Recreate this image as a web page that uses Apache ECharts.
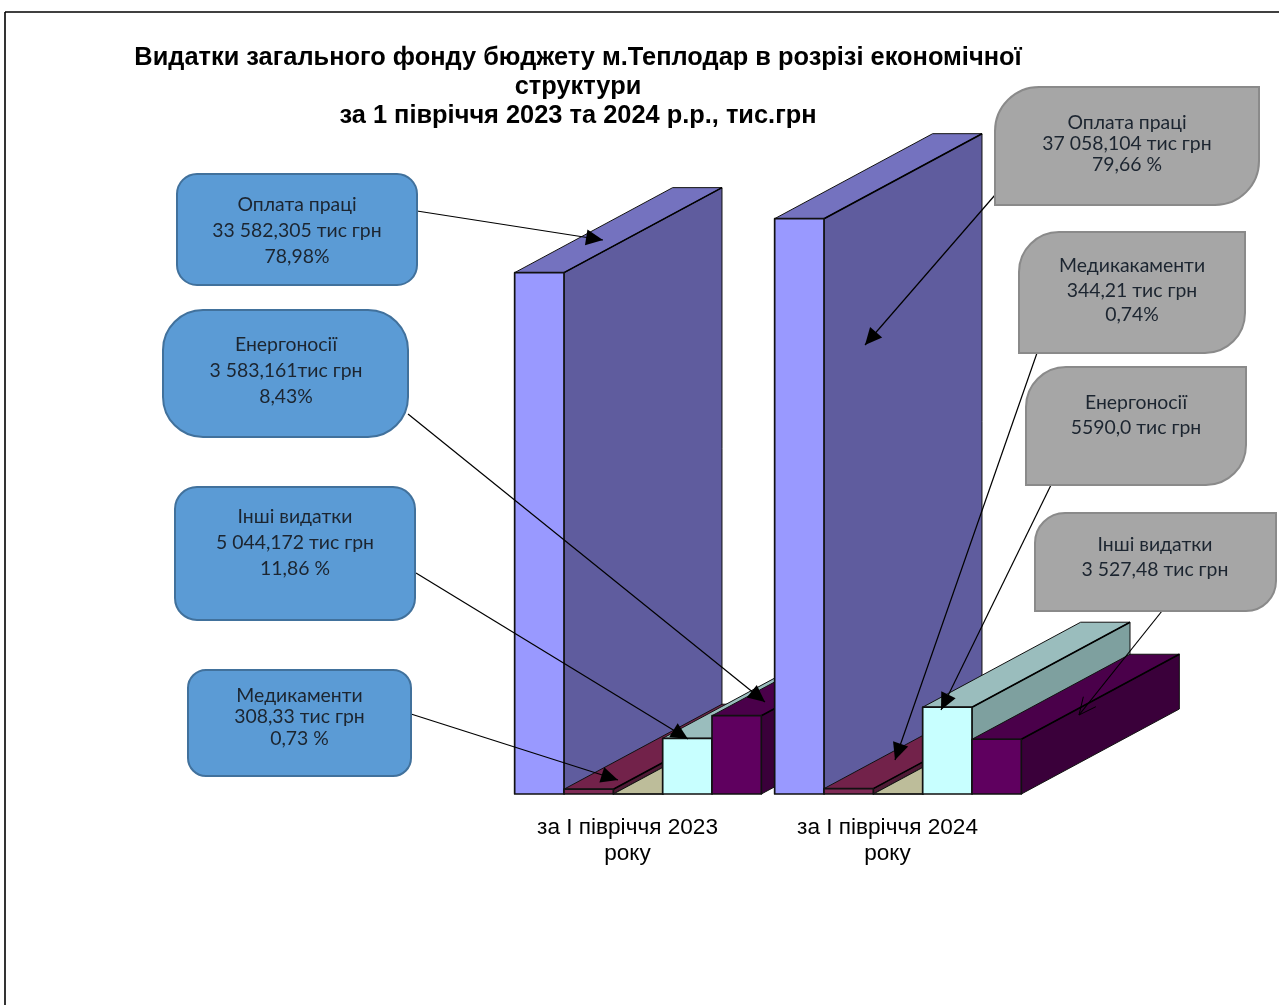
<!DOCTYPE html>
<html>
<head>
<meta charset="utf-8">
<title>Видатки загального фонду</title>
<style>
html, body { margin: 0; padding: 0; background: #fff; }
#chart { width: 1279px; height: 1005px; }
</style>
<script src="https://cdn.jsdelivr.net/npm/echarts@6/dist/echarts.min.js"></script>
</head>
<body>
<div id="chart"></div>
<script>
var titleText = 'Видатки загального фонду бюджету м.Теплодар в розрізі економічної\nструктури\nза 1 півріччя 2023 та 2024 р.р., тис.грн';
var categories = ['за І півріччя 2023\nроку', 'за І півріччя 2024\nроку'];

// тис. грн
var salary = [33582.305, 37058.104];
var medicine = [308.33, 344.21];
var emptySeries = [0, 0];
var energy = [3583.161, 5590.0];
var other = [5044.172, 3527.48];

var labelsLeft = [
	'Оплата праці\n33 582,305 тис грн\n78,98%',
	'Енергоносії\n3 583,161тис грн\n8,43%',
	'Інші видатки\n5 044,172 тис грн\n11,86 %',
	'Медикаменти\n308,33 тис грн\n0,73 %'
];
var labelsRight = [
	'Оплата праці\n37 058,104 тис грн\n79,66 %',
	'Медикакаменти\n344,21 тис грн\n0,74%',
	'Енергоносії\n5590,0 тис грн',
	'Інші видатки\n3 527,48 тис грн'
];

var depthX = 158, depthY = -85; // зсув глибини 3D
var barCount = 5;
var boxFont = 'Lato, "Noto Sans", sans-serif';

function bar3d(index, colors) {
	return function(params, api) {
		var base = api.coord([api.value(0), 0]);
		var top = api.coord([api.value(0), api.value(1)]);
		var w = api.size([1, 0])[0] / 5.27;
		var x0 = base[0] + (index - barCount / 2) * w;
		var x1 = x0 + w;
		// порядок малювання: зліва направо, наступна категорія поверх попередньої
		var order = (params.dataIndex * barCount + index) * 10;
		function face(points, fill, z2, width) {
			return {
				type: 'polygon',
				z2: order + z2,
				shape: { points: points },
				style: { fill: fill, stroke: '#111', lineWidth: width, lineJoin: 'round' }
			};
		}
		return {
			type: 'group',
			children: [
				face([[x1, top[1]], [x1 + depthX, top[1] + depthY], [x1 + depthX, base[1] + depthY], [x1, base[1]]], colors[1], 0, 1),
				face([[x0, top[1]], [x0 + depthX, top[1] + depthY], [x1 + depthX, top[1] + depthY], [x1, top[1]]], colors[2], 1, 1),
				{
					type: 'line',
					z2: order + 2,
					shape: { x1: x1, y1: top[1], x2: x1 + depthX, y2: top[1] + depthY },
					style: { stroke: '#000', lineWidth: 1.6 }
				},
				face([[x0, top[1]], [x1, top[1]], [x1, base[1]], [x0, base[1]]], colors[0], 3, 1.7)
			]
		};
	};
}

function makeSeries(name, values, index, colors) {
	return {
		name: name,
		type: 'custom',
		renderItem: bar3d(index, colors),
		encode: { x: 0, y: 1 },
		clip: false,
		silent: true,
		data: values.map(function(v, i) { return [i, v]; })
	};
}

var boxes = [
	{ text: labelsLeft[0], x: 177, y: 174, w: 240, h: 111, r: 20, cx: 297, cy: 231, lh: 26 },
	{ text: labelsLeft[1], x: 163, y: 310, w: 245, h: 127, r: 40, cx: 286, cy: 371, lh: 26 },
	{ text: labelsLeft[2], x: 175, y: 487, w: 240, h: 133, r: 22, cx: 295, cy: 543, lh: 26 },
	{ text: labelsLeft[3], x: 188, y: 670, w: 223, h: 106, r: 18, cx: 299.5, cy: 717, lh: 21.5 },
	{ text: labelsRight[0], x: 995, y: 87, w: 264, h: 118, r: 44, cx: 1127, cy: 144, lh: 21, gray: true },
	{ text: labelsRight[1], x: 1019, y: 232, w: 226, h: 121, r: 40, cx: 1132, cy: 290.5, lh: 24.5, gray: true },
	{ text: labelsRight[2], x: 1026, y: 367, w: 220, h: 118, r: 40, cx: 1136, cy: 415, lh: 24.5, gray: true },
	{ text: labelsRight[3], x: 1035, y: 513, w: 241, h: 98, r: 30, cx: 1155, cy: 557, lh: 24.5, gray: true }
];

var arrows = [
	{ from: [417, 211], to: [603, 240] },
	{ from: [408, 414], to: [765, 702] },
	{ from: [416, 573], to: [688, 739] },
	{ from: [411, 714], to: [618, 780] },
	{ from: [995, 195], to: [865, 345] },
	{ from: [1037, 353], to: [895, 760] },
	{ from: [1051, 485], to: [941, 710] },
	{ from: [1162, 611], to: [1079, 715], open: true }
];

function makeArrow(a) {
	var dx = a.to[0] - a.from[0], dy = a.to[1] - a.from[1];
	var len = Math.sqrt(dx * dx + dy * dy);
	var ux = dx / len, uy = dy / len;
	var hl = 17, hw = 8;
	var p1 = [a.to[0] - ux * hl - uy * hw, a.to[1] - uy * hl + ux * hw];
	var p2 = [a.to[0] - ux * hl + uy * hw, a.to[1] - uy * hl - ux * hw];
	var head = a.open ? {
		type: 'polyline', z: 50,
		shape: { points: [p1, a.to, p2] },
		style: { stroke: '#000', lineWidth: 1, fill: null }
	} : {
		type: 'polygon', z: 50,
		shape: { points: [p1, a.to, p2] },
		style: { fill: '#000' }
	};
	return [{
		type: 'line', z: 50,
		shape: { x1: a.from[0], y1: a.from[1], x2: a.to[0], y2: a.to[1] },
		style: { stroke: '#000', lineWidth: 1.2 }
	}, head];
}

var graphics = [
	{ type: 'line', z: 40, shape: { x1: 5, y1: 12, x2: 1279, y2: 12 }, style: { stroke: '#000', lineWidth: 1.6 } },
	{ type: 'line', z: 40, shape: { x1: 5, y1: 12, x2: 5, y2: 1005 }, style: { stroke: '#000', lineWidth: 1.6 } }
];
arrows.forEach(function(a) {
	graphics = graphics.concat(makeArrow(a));
});
boxes.forEach(function(b) {
	graphics.push({
		type: 'rect', z: 60,
		shape: { x: b.x, y: b.y, width: b.w, height: b.h, r: b.gray ? [b.r, 0, b.r, 0] : b.r },
		style: b.gray ? { fill: '#A6A6A6', stroke: '#8A8A8A', lineWidth: 2 } : { fill: '#5B9BD5', stroke: '#41719C', lineWidth: 2 }
	});
	graphics.push({
		type: 'text', z: 61,
		x: b.cx, y: b.cy,
		style: {
			text: b.text,
			fill: '#1c2530',
			font: '19.4px ' + boxFont,
			lineHeight: b.lh,
			align: 'center',
			verticalAlign: 'middle'
		}
	});
});

var chart = echarts.init(document.getElementById('chart'));
chart.setOption({
	animation: false,
	backgroundColor: '#fff',
	title: {
		text: titleText,
		left: 573,
		top: 38,
		textAlign: 'center',
		textStyle: {
			fontFamily: '"Liberation Sans", Arial, sans-serif',
			fontSize: 25.4,
			fontWeight: 'bold',
			lineHeight: 29,
			color: '#000'
		}
	},
	grid: { left: 508, right: 251, top: 173, bottom: 211 },
	xAxis: {
		type: 'category',
		data: categories,
		axisLine: { show: false },
		axisTick: { show: false },
		axisLabel: {
			interval: 0,
			margin: 21,
			padding: [0, 21, 0, 0],
			fontFamily: '"Liberation Sans", Arial, sans-serif',
			fontSize: 22.6,
			lineHeight: 26,
			color: '#000'
		}
	},
	yAxis: { type: 'value', min: 0, max: 40000, show: false },
	series: [
		makeSeries('Оплата праці', salary, 0, ['#9999FF', '#5F5C9E', '#7472BF']),
		makeSeries('Медикаменти', medicine, 1, ['#7F2A55', '#4E1A35', '#72224A']),
		makeSeries('Ряд 3', emptySeries, 2, ['#BDBD9A', '#9E9E80', '#BDBD9A']),
		makeSeries('Енергоносії', energy, 3, ['#C8FFFF', '#7EA09F', '#9ABDBD']),
		makeSeries('Інші видатки', other, 4, ['#5F005F', '#3A003A', '#4A004A'])
	],
	graphic: { elements: graphics }
});
</script>
</body>
</html>
